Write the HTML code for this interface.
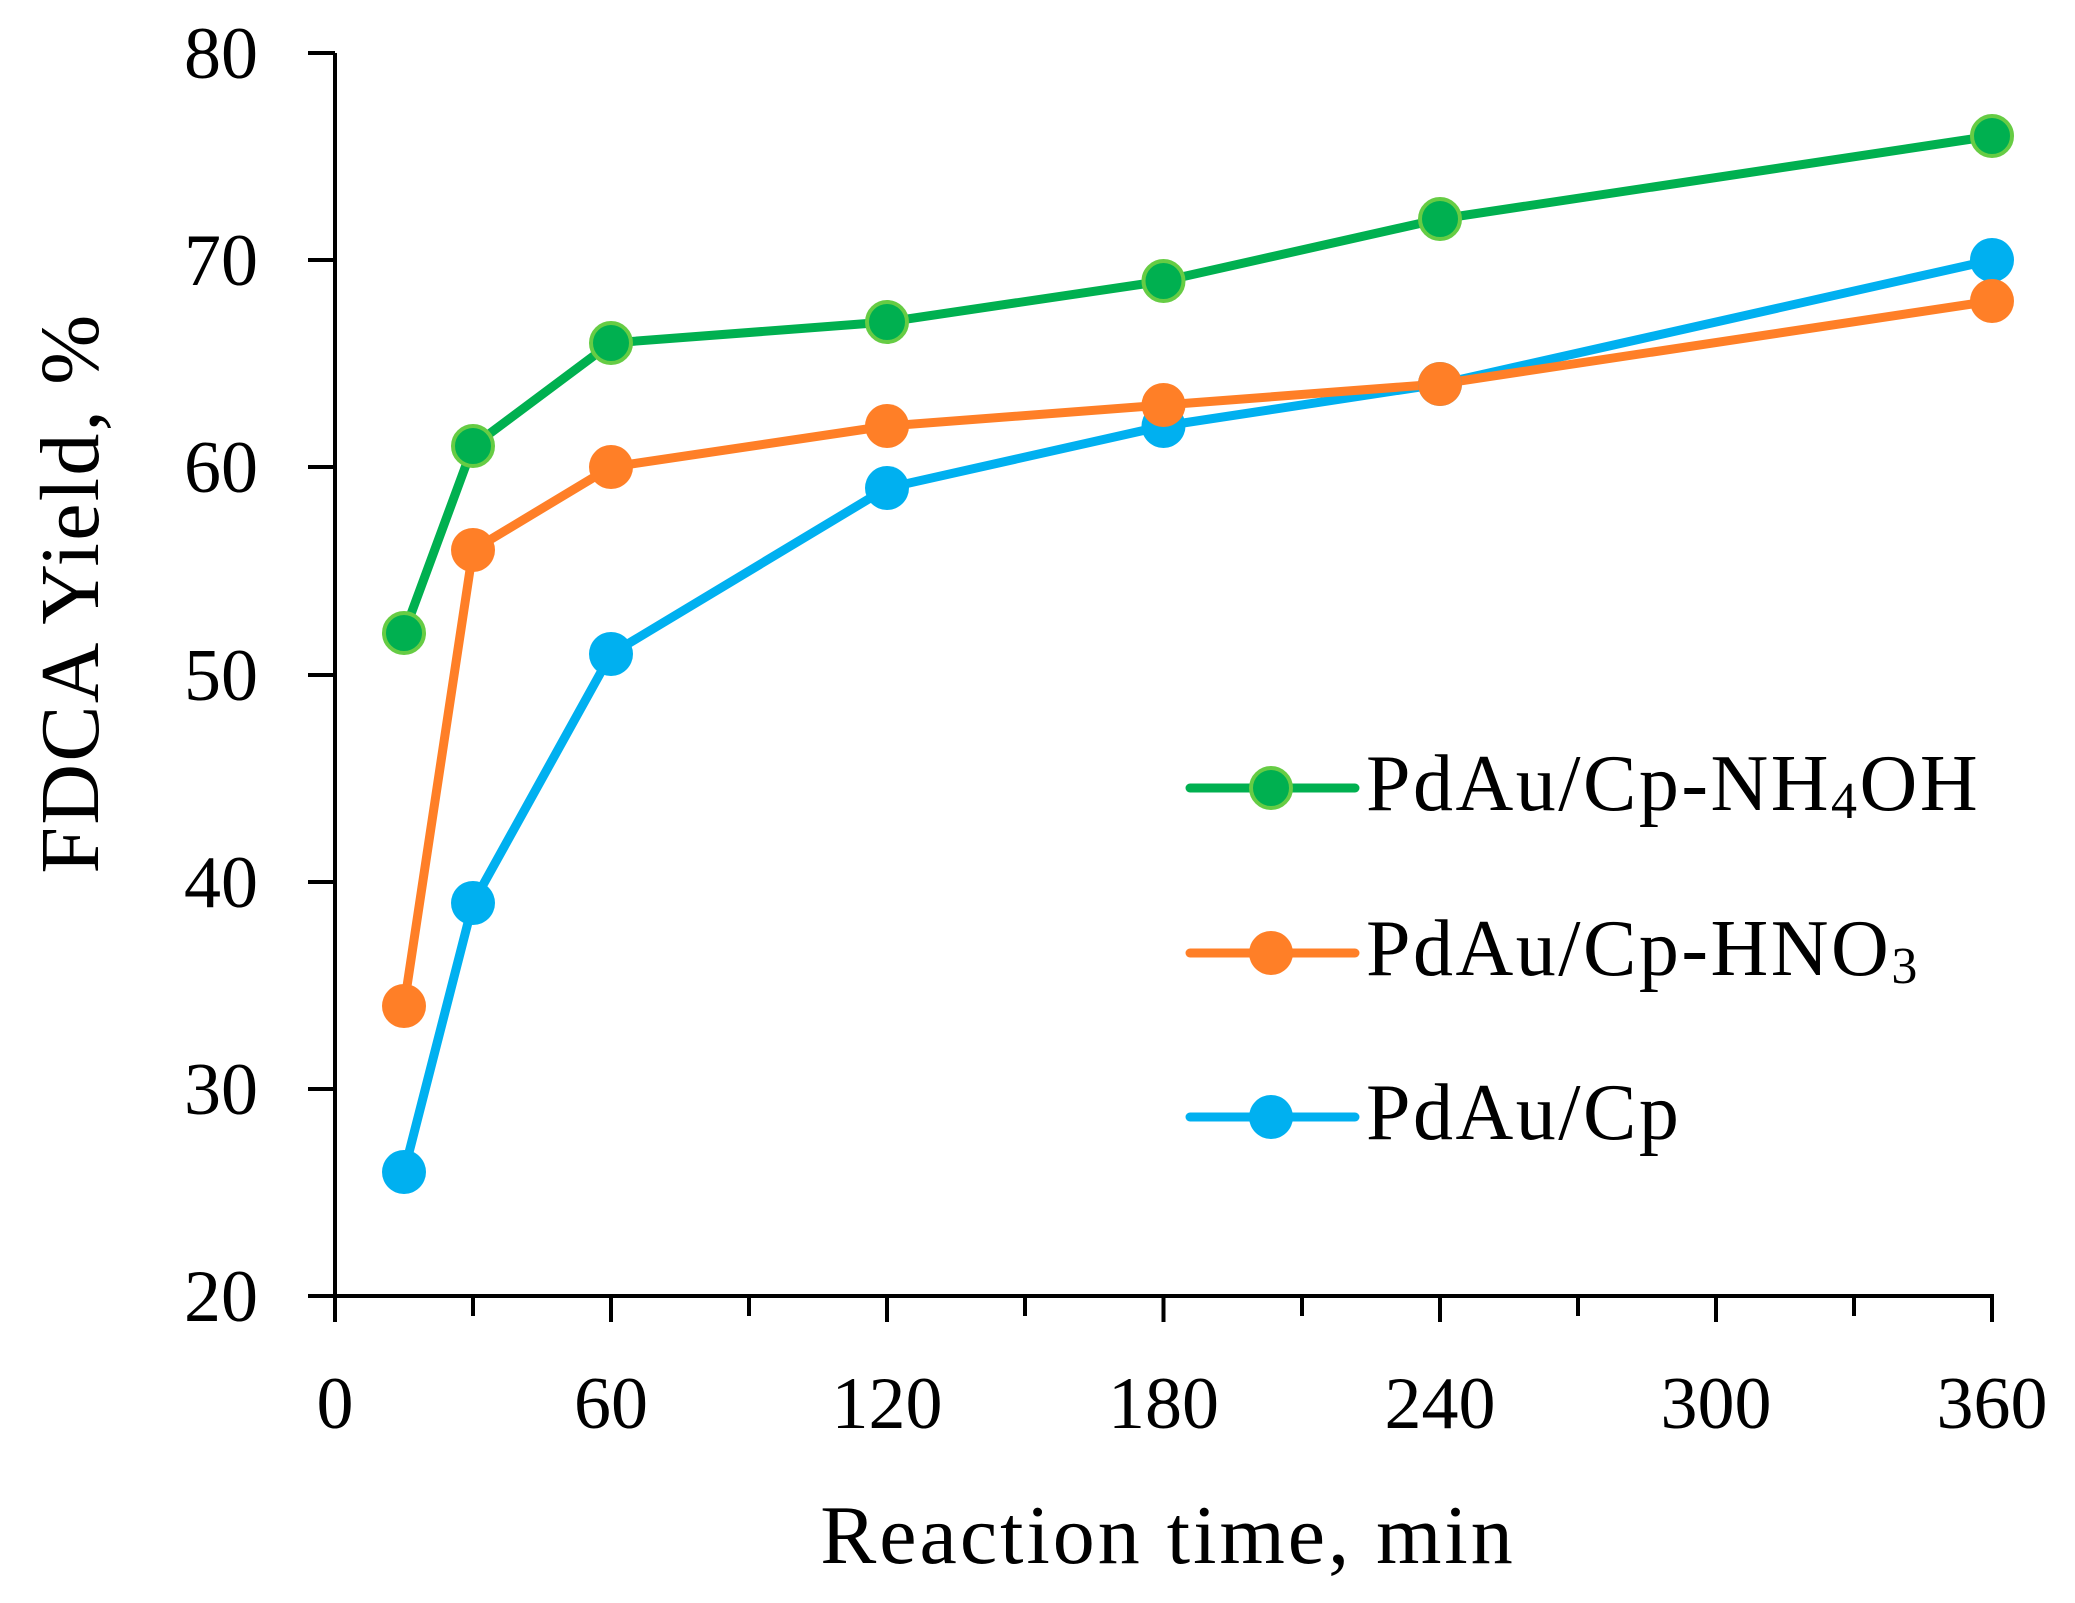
<!DOCTYPE html>
<html><head><style>body{margin:0;background:#fff}svg{display:block}</style></head><body>
<svg width="2075" height="1603" xmlns="http://www.w3.org/2000/svg" font-family="'Liberation Serif', serif">
<rect width="2075" height="1603" fill="#fff"/>
<g stroke="#000" stroke-width="4">
<line x1="335" y1="53" x2="335" y2="1298"/>
<line x1="308" y1="1296" x2="1994" y2="1296"/>
<line x1="308" y1="53" x2="335" y2="53"/><line x1="308" y1="260" x2="335" y2="260"/><line x1="308" y1="467" x2="335" y2="467"/><line x1="308" y1="675" x2="335" y2="675"/><line x1="308" y1="882" x2="335" y2="882"/><line x1="308" y1="1089" x2="335" y2="1089"/>
<line x1="335" y1="1296" x2="335" y2="1322"/><line x1="473" y1="1296" x2="473" y2="1316"/><line x1="611" y1="1296" x2="611" y2="1322"/><line x1="749" y1="1296" x2="749" y2="1316"/><line x1="887" y1="1296" x2="887" y2="1322"/><line x1="1025" y1="1296" x2="1025" y2="1316"/><line x1="1163.5" y1="1296" x2="1163.5" y2="1322"/><line x1="1302" y1="1296" x2="1302" y2="1316"/><line x1="1440" y1="1296" x2="1440" y2="1322"/><line x1="1578" y1="1296" x2="1578" y2="1316"/><line x1="1716" y1="1296" x2="1716" y2="1322"/><line x1="1854" y1="1296" x2="1854" y2="1316"/><line x1="1992" y1="1296" x2="1992" y2="1322"/>
</g>
<g font-size="74" text-anchor="end">
<text x="258" y="78">80</text><text x="258" y="285">70</text><text x="258" y="492">60</text><text x="258" y="700">50</text><text x="258" y="907">40</text><text x="258" y="1114">30</text><text x="258" y="1321">20</text>
</g>
<g font-size="74" text-anchor="middle">
<text x="335" y="1428">0</text><text x="611" y="1428">60</text><text x="887" y="1428">120</text><text x="1163.5" y="1428">180</text><text x="1440" y="1428">240</text><text x="1716" y="1428">300</text><text x="1992" y="1428">360</text>
</g>
<text x="1168" y="1563" font-size="84" text-anchor="middle" letter-spacing="3">Reaction time, min</text>
<text transform="translate(98,593) rotate(-90)" font-size="84" text-anchor="middle" letter-spacing="2.3">FDCA Yield, %</text>
<g fill="none" stroke-width="9" stroke-linejoin="round" stroke-linecap="round">
<polyline stroke="#00b0f0" points="404,1172 473,903 611,654 887,488 1163.5,426 1440,384 1992,260"/>
<polyline stroke="#ff7f27" points="404,1006 473,550 611,467 887,426 1163.5,405 1440,384 1992,301"/>
<polyline stroke="#00b050" points="404,633 473,446 611,343 887,322 1163.5,281 1440,219 1992,136"/>
</g>
<g fill="#00b0f0"><circle cx="404" cy="1172" r="22"/><circle cx="473" cy="903" r="22"/><circle cx="611" cy="654" r="22"/><circle cx="887" cy="488" r="22"/><circle cx="1163.5" cy="426" r="22"/><circle cx="1440" cy="384" r="22"/><circle cx="1992" cy="260" r="22"/></g>
<g fill="#ff7f27"><circle cx="404" cy="1006" r="22"/><circle cx="473" cy="550" r="22"/><circle cx="611" cy="467" r="22"/><circle cx="887" cy="426" r="22"/><circle cx="1163.5" cy="405" r="22"/><circle cx="1440" cy="384" r="22"/><circle cx="1992" cy="301" r="22"/></g>
<g fill="#00b050" stroke="#66cc44" stroke-width="4"><circle cx="404" cy="633" r="20"/><circle cx="473" cy="446" r="20"/><circle cx="611" cy="343" r="20"/><circle cx="887" cy="322" r="20"/><circle cx="1163.5" cy="281" r="20"/><circle cx="1440" cy="219" r="20"/><circle cx="1992" cy="136" r="20"/></g>
<g stroke-width="9" stroke-linecap="round">
<line x1="1190" y1="788" x2="1355" y2="788" stroke="#00b050"/>
<line x1="1190" y1="953" x2="1355" y2="953" stroke="#ff7f27"/>
<line x1="1190" y1="1117" x2="1355" y2="1117" stroke="#00b0f0"/>
</g>
<circle cx="1271" cy="788" r="20" fill="#00b050" stroke="#66cc44" stroke-width="4"/>
<circle cx="1271" cy="953" r="22" fill="#ff7f27"/>
<circle cx="1271" cy="1117" r="22" fill="#00b0f0"/>
<g font-size="80" letter-spacing="2.5">
<text x="1366" y="810">PdAu/Cp-NH<tspan font-size="52" dy="8">4</tspan><tspan dy="-8">OH</tspan></text>
<text x="1366" y="975">PdAu/Cp-HNO<tspan font-size="52" dy="8">3</tspan></text>
<text x="1366" y="1139">PdAu/Cp</text>
</g>
</svg>
</body></html>
